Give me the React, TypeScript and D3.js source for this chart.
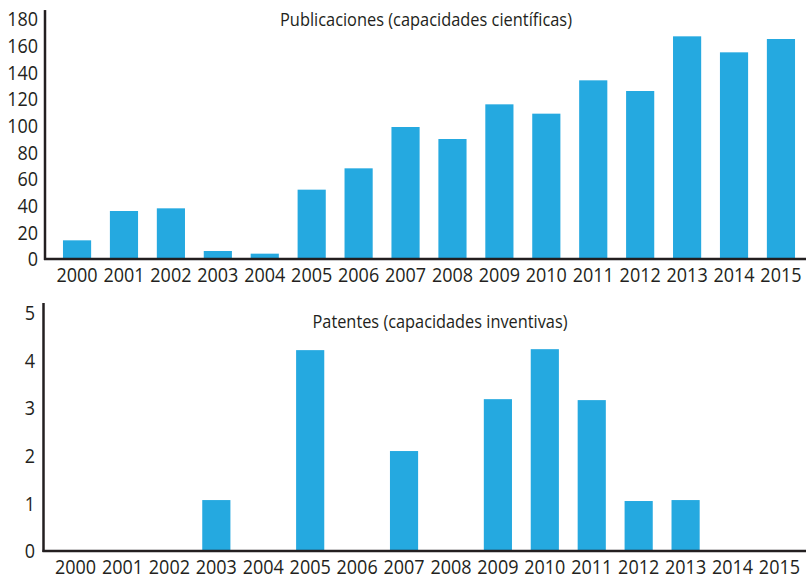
import React from "react";
import * as d3 from "d3";

const years = ["2000","2001","2002","2003","2004","2005","2006","2007","2008","2009","2010","2011","2012","2013","2014","2015"];
const publicaciones = [14, 36, 38, 6, 4, 52, 68, 99, 90, 116, 109, 134, 126, 167, 155, 165];
const patentes = [0, 0, 0, 1.07, 0, 4.22, 0, 2.1, 0, 3.19, 4.24, 3.17, 1.05, 1.07, 0, 0];
const pubTicks = [0, 20, 40, 60, 80, 100, 120, 140, 160, 180];
const patTicks = [0, 1, 2, 3, 4, 5];
const pubTitle = "Publicaciones (capacidades científicas)";
const patTitle = "Patentes (capacidades inventivas)";

const W = 806;
const H = 577;
const BAR = "#25a9e0";
const INK = "#231f20";
const FONT = "'Open Sans', 'Noto Sans', sans-serif";
const SX = 0.9;

type PanelProps = {
  values: number[];
  ticks: number[];
  title: string;
  titleLen: number;
  axisX: number;
  yRange: [number, number];
  yDomainMax: number;
  axisTopValue: number;
  titleX: number;
  titleY: number;
  tickLabelX: number;
};

function Num(props: { x: number; y: number; anchor: string; dy?: string; children: React.ReactNode }) {
  return (
    <g transform={`translate(${props.x},${props.y}) scale(${SX},1)`}>
      <text
        x={0}
        y={0}
        dy={props.dy}
        textAnchor={props.anchor}
        fontSize={20}
        fill={INK}
        fontFamily={FONT}
      >
        {props.children}
      </text>
    </g>
  );
}

function Panel(p: PanelProps) {
  const x = d3
    .scaleBand<string>()
    .domain(years)
    .range([p.axisX, p.axisX + 768])
    .paddingInner(0.4)
    .paddingOuter(0.383);
  const y = d3.scaleLinear().domain([0, p.yDomainMax]).range(p.yRange);
  const base = y(0);
  return (
    <g>
      {years.map((yr, i) =>
        p.values[i] > 0 ? (
          <rect
            key={yr}
            x={x(yr)}
            width={x.bandwidth()}
            y={y(p.values[i])}
            height={base - y(p.values[i])}
            fill={BAR}
          />
        ) : null
      )}
      <line x1={p.axisX} x2={p.axisX} y1={y(p.axisTopValue)} y2={base + 1} stroke={INK} strokeWidth={2.5} />
      <line x1={p.axisX - 1} x2={W} y1={base} y2={base} stroke={INK} strokeWidth={2.5} />
      {p.ticks.map((t) => (
        <Num key={t} x={p.tickLabelX} y={y(t)} dy="0.36em" anchor="end">
          {t}
        </Num>
      ))}
      {years.map((yr) => (
        <Num key={yr} x={(x(yr) as number) + x.bandwidth() / 2} y={base + 23} anchor="middle">
          {yr}
        </Num>
      ))}
      <text
        x={p.titleX}
        y={p.titleY}
        textAnchor="middle"
        fontSize={19}
        fill={INK}
        fontFamily={FONT}
        textLength={p.titleLen}
        lengthAdjust="spacingAndGlyphs"
      >
        {p.title}
      </text>
    </g>
  );
}

export default function App() {
  return (
    <svg
      width={W}
      height={H}
      viewBox={`0 0 ${W} ${H}`}
      style={{ position: "absolute", left: 0, top: 0, background: "#fff" }}
    >
      <rect width={W} height={H} fill="#fff" />
      <Panel
        values={publicaciones}
        ticks={pubTicks}
        title={pubTitle}
        titleLen={292}
        axisX={45}
        yRange={[259, 19]}
        yDomainMax={180}
        axisTopValue={186.7}
        titleX={426}
        titleY={26}
        tickLabelX={38}
      />
      <Panel
        values={patentes}
        ticks={patTicks}
        title={patTitle}
        titleLen={255}
        axisX={43.5}
        yRange={[551, 313]}
        yDomainMax={5}
        axisTopValue={5.21}
        titleX={440}
        titleY={328}
        tickLabelX={35}
      />
    </svg>
  );
}
